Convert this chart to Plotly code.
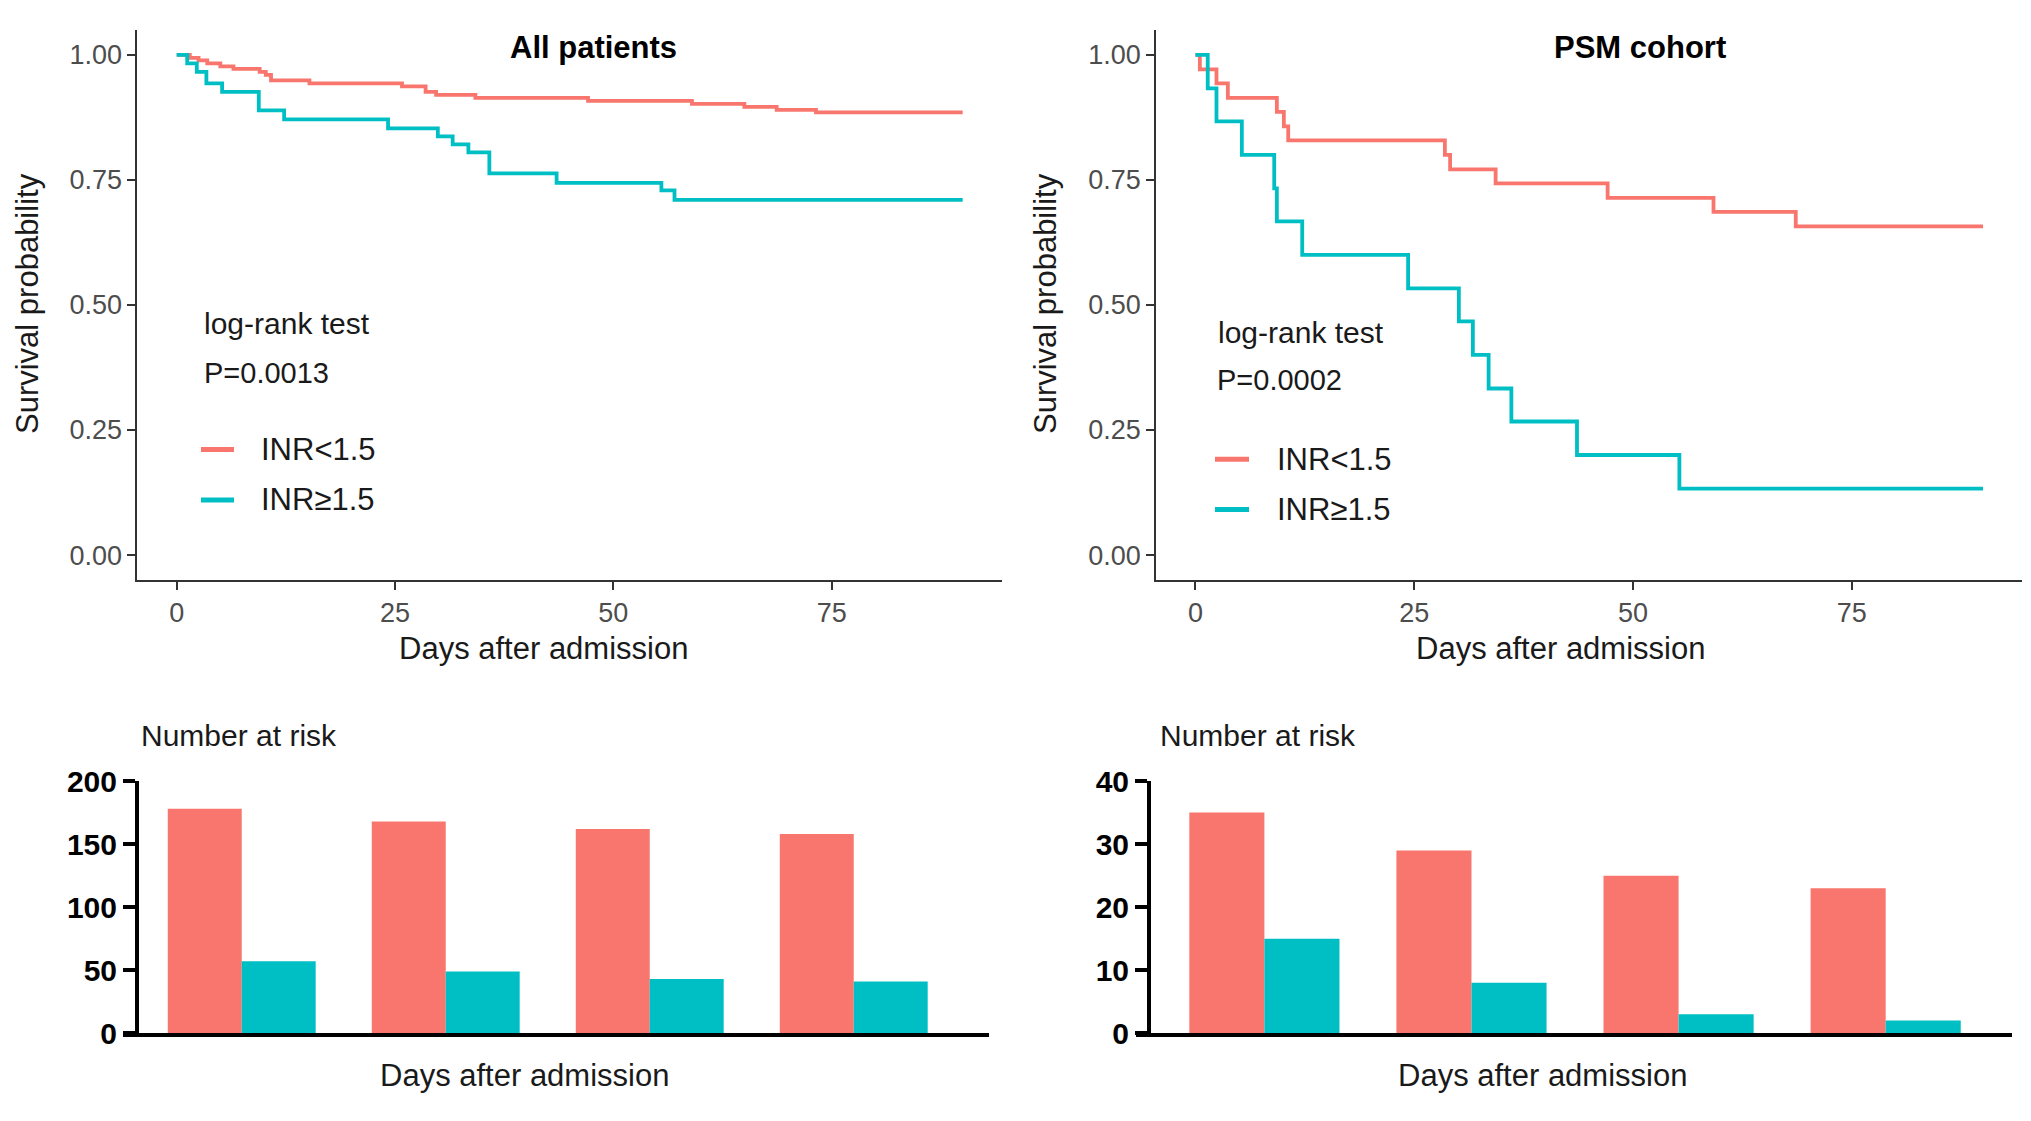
import plotly.graph_objects as go

# ---------------- data ----------------
all_low_t = [0, 1.5, 2.5, 3.5, 5, 6.5, 9.5, 10.2, 10.8, 15.2, 25.8, 28.5, 29.7, 34.2, 47.1, 59, 65, 68.7, 73.2, 90]
all_low_s = [1.0, 0.994, 0.989, 0.983, 0.977, 0.972, 0.966, 0.960, 0.949, 0.943, 0.937, 0.926, 0.920, 0.914, 0.908, 0.902, 0.896, 0.890, 0.885, 0.885]
all_high_t = [0, 1.2, 2.3, 3.4, 5.2, 9.4, 12.3, 24.2, 29.9, 31.6, 33.4, 35.8, 43.5, 55.5, 57.0, 90]
all_high_s = [1.0, 0.983, 0.966, 0.943, 0.926, 0.889, 0.871, 0.853, 0.837, 0.821, 0.805, 0.763, 0.744, 0.729, 0.710, 0.710]

psm_low_t = [0, 0.5, 2.4, 3.7, 9.3, 10.1, 10.6, 28.5, 29.1, 34.3, 47.1, 59.2, 68.6, 90]
psm_low_s = [1.0, 0.971, 0.943, 0.914, 0.886, 0.857, 0.829, 0.800, 0.771, 0.743, 0.714, 0.686, 0.657, 0.657]
psm_high_t = [0, 1.4, 2.4, 5.3, 9.0, 9.3, 12.2, 24.3, 30.1, 31.7, 33.5, 36.1, 43.6, 55.3, 90]
psm_high_s = [1.0, 0.933, 0.867, 0.800, 0.733, 0.667, 0.600, 0.533, 0.467, 0.400, 0.333, 0.267, 0.200, 0.133, 0.133]

risk_times = ["0", "25", "50", "75"]
all_risk_low = [178, 168, 162, 158]
all_risk_high = [57, 49, 43, 41]
psm_risk_low = [35, 29, 25, 23]
psm_risk_high = [15, 8, 3, 2]

km_ticks = [0, 25, 50, 75]
surv_ticks = [0, 0.25, 0.5, 0.75, 1.0]
surv_tick_labels = ["0.00", "0.25", "0.50", "0.75", "1.00"]

RED = "#F8766D"
TEAL = "#00BFC4"
FONT = "Liberation Sans, Arial, sans-serif"
W, H = 2031, 1121


def px(x):
    return x / W


def py(y):
    return 1 - y / H


fig = go.Figure()

for t, s, c, xa, ya in [
    (all_low_t, all_low_s, RED, "x", "y"),
    (all_high_t, all_high_s, TEAL, "x", "y"),
    (psm_low_t, psm_low_s, RED, "x2", "y2"),
    (psm_high_t, psm_high_s, TEAL, "x2", "y2"),
]:
    fig.add_trace(go.Scatter(x=t, y=s, mode="lines", line=dict(color=c, width=3.8, shape="hv"),
                             xaxis=xa, yaxis=ya, showlegend=False, hoverinfo="skip"))

for vals, c, xa, ya, off in [
    (all_risk_low, RED, "x3", "y3", "l"),
    (all_risk_high, TEAL, "x3", "y3", "h"),
    (psm_risk_low, RED, "x4", "y4", "l"),
    (psm_risk_high, TEAL, "x4", "y4", "h"),
]:
    fig.add_trace(go.Bar(x=risk_times, y=vals, marker=dict(color=c, line=dict(width=0)),
                         xaxis=xa, yaxis=ya, showlegend=False, offsetgroup=off, hoverinfo="skip"))

km_x_common = dict(range=[-4.5, 94.5], tickvals=km_ticks, showline=True, linecolor="#333333", linewidth=2,
                   ticks="outside", ticklen=8, tickwidth=2, tickcolor="#333333", showgrid=False, zeroline=False,
                   tickfont=dict(family=FONT, size=27, color="#4D4D4D"))
km_y_common = dict(range=[-0.05, 1.05], tickvals=surv_ticks, ticktext=surv_tick_labels, showline=True,
                   linecolor="#333333", linewidth=2, ticks="outside", ticklen=8, tickwidth=2,
                   tickcolor="#333333", showgrid=False, zeroline=False,
                   tickfont=dict(family=FONT, size=27, color="#4D4D4D"))

bar_x_common = dict(type="category", showline=True, linecolor="black", linewidth=4, showticklabels=False,
                    ticks="", showgrid=False, zeroline=False)
bar_y_common = dict(showline=True, linecolor="black", linewidth=4, ticks="outside", ticklen=12, tickwidth=3.5,
                    tickcolor="black", showgrid=False, zeroline=False,
                    tickfont=dict(family=FONT, size=30, color="black", weight="bold"))

fig.update_layout(
    width=W, height=H, margin=dict(l=0, r=0, t=0, b=0),
    paper_bgcolor="white", plot_bgcolor="white",
    barmode="group", bargap=0.275, bargroupgap=0,
    xaxis=dict(domain=[px(137.4), px(1002)], anchor="y", **km_x_common),
    yaxis=dict(domain=[py(580.7), py(13.2)], anchor="x", **km_y_common),
    xaxis2=dict(domain=[px(1156.1), px(2022.4)], anchor="y2", **km_x_common),
    yaxis2=dict(domain=[py(580.7), py(13.2)], anchor="x2", **km_y_common),
    xaxis3=dict(domain=[px(123), px(989)], anchor="y3", range=[-0.582, 3.663], **bar_x_common),
    yaxis3=dict(domain=[py(1048), py(788)], anchor="free", position=px(137), range=[0, 200],
                tickvals=[0, 50, 100, 150, 200], **bar_y_common),
    xaxis4=dict(domain=[px(1136), px(2012)], anchor="y4", range=[-0.62, 3.61], **bar_x_common),
    yaxis4=dict(domain=[py(1048), py(788)], anchor="free", position=px(1149), range=[0, 40],
                tickvals=[0, 10, 20, 30, 40], **bar_y_common),
)

ann = []


def text(x, y, s, size, xanchor="left", color="#1a1a1a", bold=False, angle=0):
    ann.append(dict(x=px(x), y=py(y), xref="paper", yref="paper", text=s, showarrow=False,
                    xanchor=xanchor, yanchor="middle", textangle=angle,
                    font=dict(family=FONT, size=size, color=color, weight="bold" if bold else "normal")))


text(593, 31, "All patients", 31, "center", "black", True)
text(1640, 31, "PSM cohort", 31, "center", "black", True)
text(27, 296, "Survival probability", 31, "center", "#1a1a1a", angle=-90)
text(1045, 296, "Survival probability", 31, "center", "#1a1a1a", angle=-90)
text(543, 651, "Days after admission", 31, "center")
text(1560, 651, "Days after admission", 31, "center")
text(202, 316, "log-rank test", 30)
text(202, 367, "P=0.0013", 29)
text(1216, 325, "log-rank test", 30)
text(1215, 374, "P=0.0002", 29)
text(259, 446, "INR<1.5", 31)
text(259, 498, "INR≥1.5", 31)
text(1275, 456, "INR<1.5", 31)
text(1275, 508, "INR≥1.5", 31)
text(139, 741, "Number at risk", 30)
text(1158, 741, "Number at risk", 30)
text(524, 1092, "Days after admission", 31, "center")
text(1542, 1092, "Days after admission", 31, "center")

fig.update_layout(annotations=ann)

shapes = []
for x0, x1, y, c in [(201, 234, 446, RED), (201, 234, 498, TEAL), (1215, 1249, 456, RED), (1215, 1249, 508, TEAL)]:
    shapes.append(dict(type="line", xref="paper", yref="paper", x0=px(x0), x1=px(x1), y0=py(y), y1=py(y),
                       line=dict(color=c, width=5)))
fig.update_layout(shapes=shapes)

fig.write_html("out.html", config={"displayModeBar": False},
               post_script="document.body.style.margin='0';document.body.style.overflow='hidden';")
